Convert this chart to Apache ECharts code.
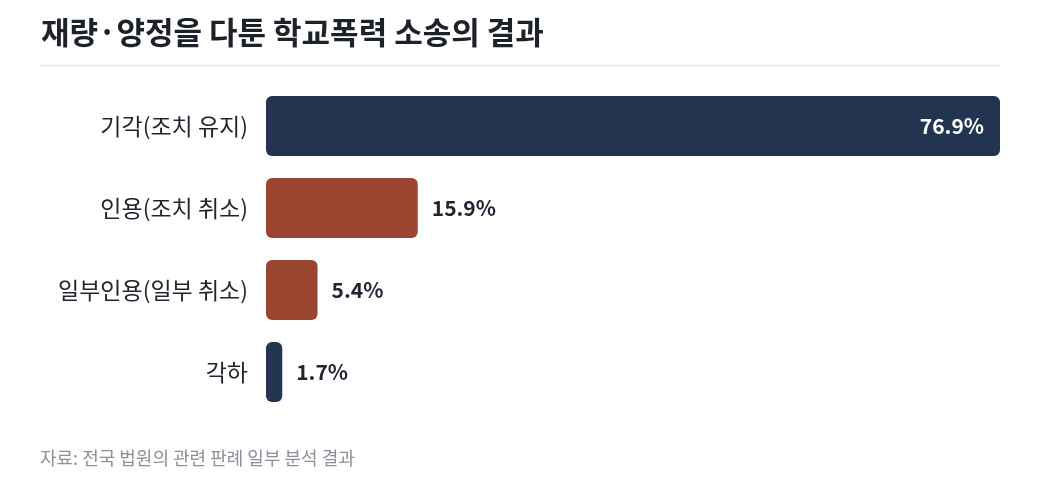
<!DOCTYPE html>
<html>
<head>
<meta charset="utf-8">
<script src="https://cdn.jsdelivr.net/npm/echarts@6/dist/echarts.min.js"></script>
<style>
  html, body { margin: 0; padding: 0; background: #fff; }
  #chart { width: 1040px; height: 495px; }
</style>
</head>
<body>
<div id="chart"></div>
<script>
const categories = ['기각(조치 유지)', '인용(조치 취소)', '일부인용(일부 취소)', '각하']
const values = [76.9, 15.9, 5.4, 1.7]
const barColors = ['#22344f', '#9a4530', '#9a4530', '#22344f']

const FONT = '"Noto Sans CJK KR", "Noto Sans", sans-serif'

const chart = echarts.init(document.getElementById('chart'))
chart.setOption({
  animation: false,
  textStyle: { fontFamily: FONT },
  title: {
    text: '재량·양정을 다툰 학교폭력 소송의 결과',
    left: 36,
    top: 12,
    textStyle: { fontSize: 31, fontWeight: 'bold', color: '#1d2129', fontFamily: FONT }
  },
  graphic: [{
    type: 'line',
    shape: { x1: 40, y1: 65.5, x2: 1000, y2: 65.5 },
    style: { stroke: '#e3e5e8', lineWidth: 1.5 }
  }, {
    type: 'text',
    left: 40,
    top: 449,
    style: { text: '자료: 전국 법원의 관련 판례 일부 분석 결과', fill: '#8a8f99', fontSize: 18, fontFamily: FONT }
  }],
  grid: { left: 266, right: 40, top: 85, bottom: 82, containLabel: false },
  xAxis: {
    type: 'value',
    min: 0,
    max: 76.9,
    show: false
  },
  yAxis: {
    type: 'category',
    inverse: true,
    data: categories,
    axisLine: { show: false },
    axisTick: { show: false },
    axisLabel: { color: '#1f2430', fontSize: 23, margin: 18, fontFamily: FONT }
  },
  series: [{
    type: 'bar',
    barWidth: 60,
    data: values.map((v, i) => ({
      value: v,
      itemStyle: { color: barColors[i], borderRadius: 6 },
      label: i === 0
        ? { position: 'insideRight', color: '#ffffff', distance: 16 }
        : { position: 'right', color: '#1f2430', distance: 14 }
    })),
    label: {
      show: true,
      fontSize: 21,
      fontWeight: 600,
      fontFamily: FONT,
      formatter: p => p.value + '%'
    }
  }]
})
</script>
</body>
</html>
